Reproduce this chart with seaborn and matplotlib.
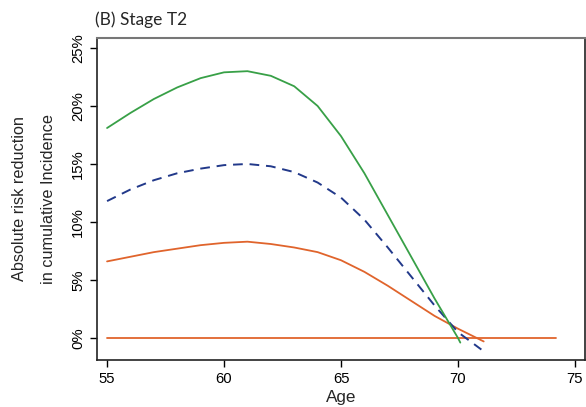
import numpy as np
import pandas as pd
import matplotlib
matplotlib.use("Agg")
import matplotlib.pyplot as plt
import seaborn as sns
from matplotlib.ticker import FuncFormatter

age_a = [55, 56, 57, 58, 59, 60, 61, 62, 63, 64, 65, 66, 67, 68, 69, 70, 70.1]
green = [18.1, 19.4, 20.6, 21.6, 22.4, 22.9, 23.0, 22.6, 21.7, 20.0, 17.4, 14.2, 10.6, 7.0, 3.4, 0.0, -0.4]

age_b = [55, 56, 57, 58, 59, 60, 61, 62, 63, 64, 65, 66, 67, 68, 69, 70, 71]
navy = [11.8, 12.8, 13.6, 14.2, 14.6, 14.9, 15.0, 14.8, 14.3, 13.4, 12.1, 10.2, 7.8, 5.3, 2.8, 0.5, -1.0]

age_c = [55, 56, 57, 58, 59, 60, 61, 62, 63, 64, 65, 66, 67, 68, 69, 70, 71.1]
orange = [6.6, 7.0, 7.4, 7.7, 8.0, 8.2, 8.3, 8.1, 7.8, 7.4, 6.7, 5.7, 4.5, 3.2, 1.9, 0.8, -0.3]

age_ref = [55, 74.2]
ref = [0.0, 0.0]

x_ticks = [55, 60, 65, 70, 75]
y_ticks = [0, 5, 10, 15, 20, 25]

sns.set_theme(style="white")
plt.rcParams['font.family'] = ['Liberation Sans', 'DejaVu Sans']

fig = plt.figure(figsize=(5.86, 4.07), dpi=100)
ax = fig.add_axes([97/586, 1 - 360/407, (585 - 97)/586, (360 - 38)/407])

c_green = "#38A047"
c_navy = "#22398A"
c_orange = "#E0642C"

sns.lineplot(x=age_ref, y=ref, ax=ax, color=c_orange, linewidth=1.3)
sns.lineplot(x=age_c, y=orange, ax=ax, color=c_orange, linewidth=1.3)
sns.lineplot(x=age_b, y=navy, ax=ax, color=c_navy, linewidth=1.4, linestyle=(0, (5, 3.5)))
sns.lineplot(x=age_a, y=green, ax=ax, color=c_green, linewidth=1.3)

ax.set_xlim(54.57, 75.43)
ax.set_ylim(-1.9, 25.86)
ax.set_xticks(x_ticks)
ax.set_yticks(y_ticks)
ax.yaxis.set_major_formatter(FuncFormatter(lambda v, p: f"{int(v)}%"))
ax.tick_params(axis="both", which="both", direction="out", length=5, width=1,
               colors="black", labelsize=10.7, bottom=True, left=True)
for lab in ax.get_yticklabels():
    lab.set_rotation(90)
    lab.set_va("center")

for side in ["left", "bottom", "right"]:
    ax.spines[side].set_color("#222222")
    ax.spines[side].set_linewidth(1.2)
ax.spines["top"].set_color("#777777")
ax.spines["top"].set_linewidth(1.5)

ax.set_xlabel("Age", fontsize=12.3, labelpad=3)
ax.set_ylabel("Absolute risk reduction\nin cumulative Incidence", fontsize=11.7, labelpad=11, linespacing=2.2)

fig.text(97/586 - 0.003, 1 - 20/407, "(B) Stage T2", fontsize=12.5, family=['Lato', 'DejaVu Sans'],
         va="center", ha="left")

fig.savefig("out.png", dpi=100)
